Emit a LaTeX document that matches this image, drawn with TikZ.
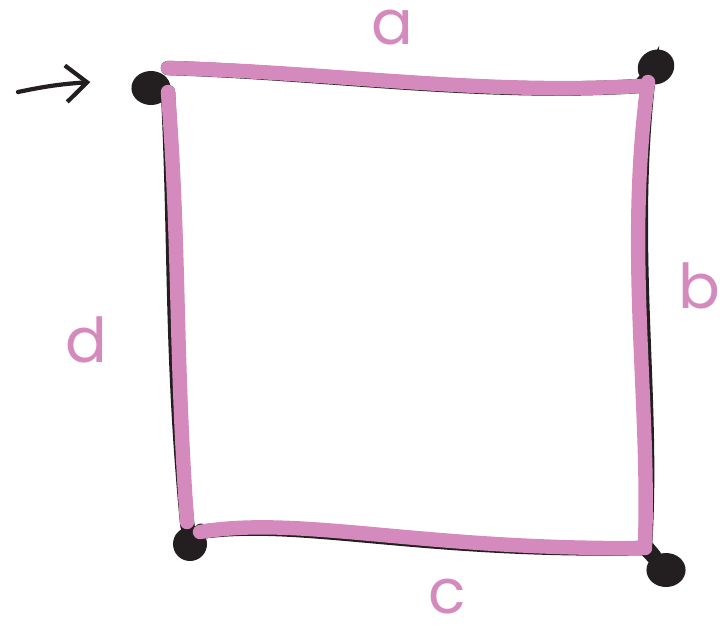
\documentclass[tikz,border=0pt]{standalone}
\usepackage{fontspec}
\setmainfont{Poppins}
\usepackage{tikz}
\usetikzlibrary{arrows.meta,positioning}
\definecolor{edgepink}{HTML}{D58ABD}
\definecolor{dotblack}{HTML}{231F20}
\tikzset{
  side/.style={draw=edgepink, line width=0.36cm, line cap=round},
  underline/.style={draw=dotblack, line width=0.36cm, line cap=round},
  corner/.style={circle, fill=dotblack, minimum size=0.85cm, inner sep=0pt},
  sidelabel/.style={text=edgepink, inner sep=0pt, font=\fontsize{44}{48}\selectfont\mdseries},
}

\begin{document}
\begin{tikzpicture}[x=0.025cm, y=-0.025cm]
        \useasboundingbox (0,0) rectangle (720,631);

        % Corners of the square
        \node[corner, xscale=1.15, rotate=-20] (A) at (151,88) {};
        \node[corner, rotate=30, xscale=1.1] (B) at (656,67) {};
        \node[corner, xscale=1.15] (C) at (666,570) {};
        \node[corner] (D) at (190,544) {};

        % Ends of the pink sides
        \coordinate (ab1) at (168,68); \coordinate (ab2) at (640,86);
        \coordinate (bc1) at (648,82); \coordinate (bc2) at (645,545);
        \coordinate (cd1) at (645,548); \coordinate (cd2) at (200,532);
        \coordinate (da1) at (187,522); \coordinate (da2) at (168,92);

        % Black strokes just under the pink ones
        \draw[underline] (ab1) .. controls (330,73) and (480,96) .. (ab2) -- (B);
        \draw[underline, xshift=3] (B) -- (bc1) .. controls (625,250) and (650,400) .. (bc2) -- (C);
        \draw[underline, yshift=-2] (C) -- (cd1) .. controls (420,550) and (300,515) .. (cd2) -- (D);
        \draw[underline, xshift=-3] (D) -- (da1) .. controls (175,350) and (180,250) .. (da2);

        % Pink sides
        \draw[side] (ab1) .. controls (330,72) and (480,95) .. (ab2);
        \draw[side] (bc1) .. controls (625,250) and (650,400) .. (bc2);
        \draw[side] (cd1) .. controls (420,550) and (300,515) .. (cd2);
        \draw[side] (da1) .. controls (175,350) and (180,250) .. (da2);

        % Side names
        \node[sidelabel] (a) at (392,28) {a};
        \node[sidelabel] (b) at (699,286) {b};
        \node[sidelabel] (c) at (447,597) {c};
        \node[sidelabel] (d) at (86,340) {d};

        % Start arrow
        \coordinate (start) at (18,92);
        \draw[dotblack, line width=3pt, line cap=round, -{Straight Barb[length=15pt, width=26pt, line width=3pt]}] (start) to[bend left=4] ([xshift=-1.05cm]A.west);
\end{tikzpicture}
\end{document}
